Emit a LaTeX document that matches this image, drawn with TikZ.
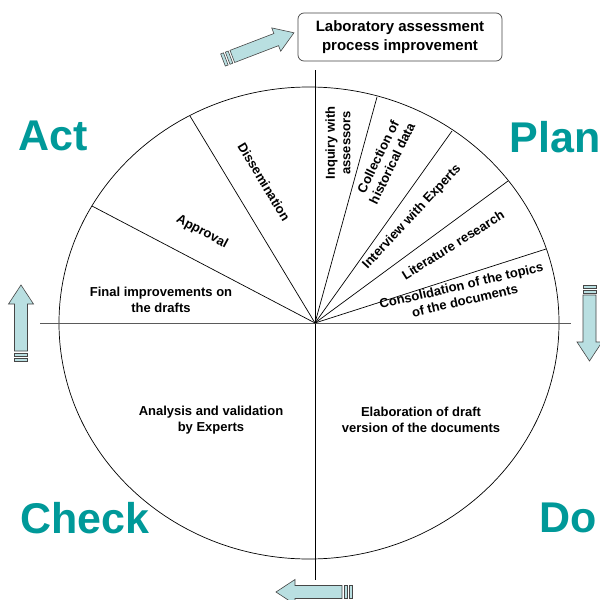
\documentclass[tikz,border=0pt]{standalone}
\usepackage{fontspec}
\setmainfont{Liberation Sans}
\definecolor{phaseteal}{RGB}{0,153,153}
\definecolor{arrowfill}{RGB}{185,223,225}
\definecolor{arrowline}{RGB}{70,70,70}
\definecolor{axisgray}{RGB}{90,90,90}
\begin{document}
\begin{tikzpicture}[x=1pt,y=-1pt,
  phase/.style={font=\fontsize{43}{43}\selectfont\bfseries, text=phaseteal, inner sep=0pt},
  stagelabel/.style={font=\fontsize{13}{15.5}\selectfont\bfseries, align=center, inner sep=0pt},
  goalbox/.style={draw=arrowline, line width=0.7pt, rounded corners=6pt, align=center,
    font=\fontsize{15}{18.5}\selectfont\bfseries, minimum width=204pt, minimum height=48pt, inner sep=0pt},
  rim/.style={line width=0.7pt, draw=black},
  axis/.style={line width=0.8pt, draw=axisgray},
  blockarrow/.style={fill=arrowfill, draw=arrowline, line width=0.6pt},
  cyclearrow/.pic={
    \draw[blockarrow] (0,-6.5) rectangle (3,6.5);
    \draw[blockarrow] (5,-6.5) rectangle (8,6.5);
    \draw[blockarrow] (10,-6.5) -- (57,-6.5) -- (57,-12.5) -- (76,0)
      -- (57,12.5) -- (57,6.5) -- (10,6.5) -- cycle;
  }]
\useasboundingbox (0,0) rectangle (600,600);
\fill[white] (0,0) rectangle (600,600);

% the cycle wheel
\coordinate (O) at (315,323);
\coordinate (top) at (315,70);
\coordinate (bottom) at (315,580);
\coordinate (left) at (40,323);
\coordinate (right) at (571,323);
\draw[rim] (309,323) ellipse [x radius=250pt, y radius=236pt];
\draw[rim] (top) -- (bottom);
\draw[axis] (left) -- (right);
\foreach \px/\py in {377/97, 452/131, 508/181, 546/249, 190/116, 92/206}
  \draw[rim] (O) -- (\px,\py);

% goal of the cycle
\node[goalbox] (goal) at (400,37) {Laboratory assessment\\process improvement};

% direction arrows around the wheel
\pic[rotate=21] (toGoal) at (223,60) {cyclearrow};
\pic[rotate=-90] (toDo) at (589.5,285) {cyclearrow};
\pic[rotate=180] (toCheck) at (352,592) {cyclearrow};
\pic[rotate=90] (toAct) at (21,361) {cyclearrow};

% phase names
\node[phase] (act) at (53,136) {Act};
\node[phase] (plan) at (555,137) {Plan};
\node[phase] (check) at (85,518) {Check};
\node[phase] (do) at (568,518) {Do};

% Plan sectors
\node[stagelabel, rotate=90] (inquiry) at (338,143) {Inquiry with\\assessors};
\node[stagelabel, rotate=64] (collection) at (385,160) {Collection of\\historical data};
\node[stagelabel, rotate=47] (interview) at (412,217) {Interview with Experts};
\node[stagelabel, rotate=32] (literature) at (453,245) {Literature research};
\node[stagelabel, rotate=13] (consolidation) at (463,293) {Consolidation of the topics\\of the documents};

% Do and Check
\node[stagelabel] (elaboration) at (421,420) {Elaboration of draft\\version of the documents};
\node[stagelabel] (analysis) at (211,420) {Analysis and validation\\by Experts};

% Act sectors
\node[stagelabel] (final) at (161,300) {Final improvements on\\the drafts};
\node[stagelabel, rotate=-28] (approval) at (202,232) {Approval};
\node[stagelabel, rotate=-59] (dissemination) at (264,182) {Dissemination};
\end{tikzpicture}
\end{document}
